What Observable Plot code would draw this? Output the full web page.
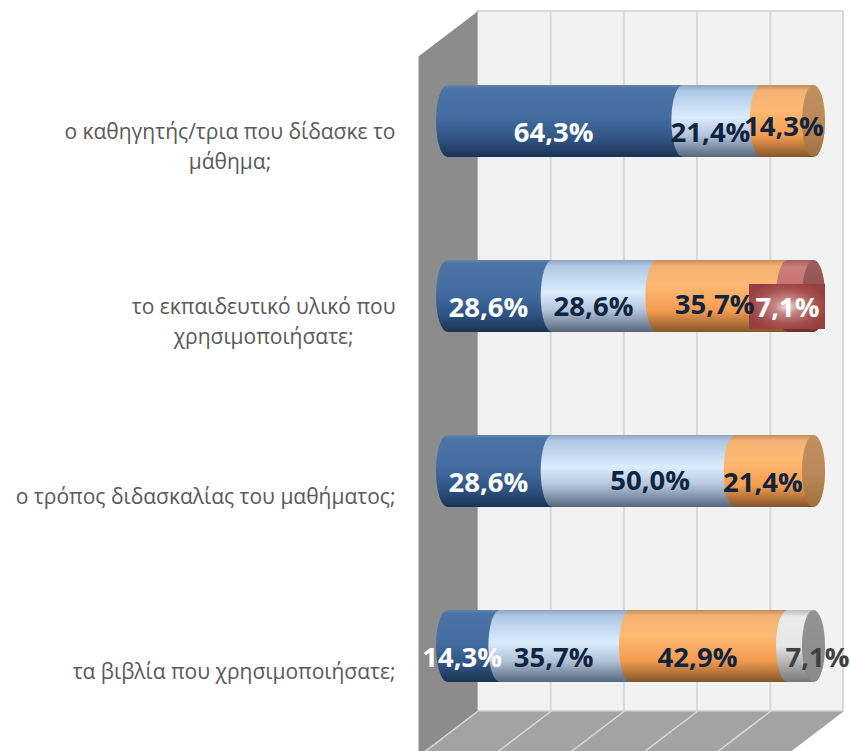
<!DOCTYPE html>
<html lang="el">
<head>
<meta charset="utf-8">
<script src="https://cdn.jsdelivr.net/npm/d3@7"></script>
<script src="https://cdn.jsdelivr.net/npm/@observablehq/plot@0.6"></script>
<style>html,body{margin:0;padding:0;background:#fff}svg{display:block}</style>
</head>
<body>
<div id="chart"></div>
<script>
const categories = [
  "ο καθηγητής/τρια που δίδασκε το\nμάθημα;",
  "το εκπαιδευτικό υλικό που\nχρησιμοποιήσατε;",
  "ο τρόπος διδασκαλίας του μαθήματος;",
  "τα βιβλία που χρησιμοποιήσατε;"
];
const seriesBlue   = [64.3, 28.6, 28.6, 14.3];
const seriesLight  = [21.4, 28.6, 50.0, 35.7];
const seriesOrange = [14.3, 35.7, 21.4, 42.9];
const seriesRed    = [0, 7.1, 0, 0];
const seriesGray   = [0, 0, 0, 7.1];
const gridTicks = [0, 20, 40, 60, 80, 100];

// manual label placement in the original, in screen pixels from the default spot
const nudgeBlue   = [[0,0],[0,0],[0,0],[0,0]];
const nudgeLight  = [[0,0],[0.5,-1],[18,-2],[0,0]];
const nudgeOrange = [[8,-6],[4,-3],[0,0],[0,0]];
const nudgeRed    = [[0,0],[-1.5,0],[0,0],[0,0]];
const nudgeGray   = [[0,0],[0,0],[0,0],[28.5,0]];

const W = 850, H = 751;
const pxX = 3.66, pxY = 175;
const x0 = 447.5, y0 = 121;
const xDomain = [-x0 / pxX, (W - x0) / pxX];
const yDomain = [-y0 / pxY, (H - y0) / pxY];
const depthX = 59 / 2 / pxX;
const depthY = 45 / pxY;
const wallTop = (11 - y0) / pxY, wallBottom = (711 - y0) / pxY;
const halfBar = 36 / pxY;
const rx = 11.5;

const series = [
  {key: "blue",   values: seriesBlue,   nudge: nudgeBlue,   text: "#ffffff"},
  {key: "light",  values: seriesLight,  nudge: nudgeLight,  text: "#0f243e"},
  {key: "orange", values: seriesOrange, nudge: nudgeOrange, text: "#0f243e"},
  {key: "red",    values: seriesRed,    nudge: nudgeRed,    text: "#ffffff"},
  {key: "gray",   values: seriesGray,   nudge: nudgeGray,   text: "#404040"}
];

const cum = categories.map(() => 0);
const segs = series.map(s => s.values.map((v, i) => {
  const start = cum[i]; cum[i] += v;
  return {i, v, start, end: start + v, mid: start + v / 2,
          lx: start + v / 2 + (-12 + s.nudge[i][0]) / pxX,
          ly: i + (11.5 + s.nudge[i][1]) / pxY,
          label: v.toFixed(1).replace(".", ",") + "%"};
}).filter(d => d.v > 0));

const ctx = document.createElement("canvas").getContext("2d");
const catFontSize = 21;
ctx.font = `${catFontSize}px 'Open Sans'`;
const labelRight = (395 - x0) / pxX;
const catRows = categories.map((c, i) => {
  const w = Math.max(...c.split("\n").map(l => ctx.measureText(l).width));
  return {c, i, x: labelRight - (w / 2) / pxX, y: i + 22.5 / pxY};
});

const side = [[-depthX, wallTop + depthY],[depthX, wallTop],[depthX, wallBottom],[-depthX, wallBottom + depthY]];
const floor = [[depthX, wallBottom],[100 + depthX, wallBottom],[100 - depthX, wallBottom + depthY],[-depthX, wallBottom + depthY]];

const marks = [
  Plot.rect([0], {x1: depthX, x2: 100 + depthX, y1: wallTop, y2: wallBottom, fill: "#f2f2f2", stroke: "#cfcfcf", strokeWidth: 1.5}),
  Plot.ruleX(gridTicks.slice(1, -1), {x: d => d + depthX, y1: wallTop, y2: wallBottom, stroke: "#d9d9d9", strokeWidth: 2}),
  Plot.line(side, {x: "0", y: "1", fill: "#8c8c8c", stroke: "none"}),
  Plot.line(floor, {x: "0", y: "1", fill: "#a3a3a3", stroke: "none"}),
  ...gridTicks.slice(0, -1).map(t => Plot.line(
    [[t + depthX, wallBottom],[t - depthX, wallBottom + depthY]],
    {x: "0", y: "1", stroke: "#d9d9d9", strokeWidth: 1.5}))
];

series.forEach((s, k) => {
  marks.push(Plot.rect(segs[k], {
    x1: "start", x2: "end",
    y1: d => d.i - halfBar, y2: d => d.i + halfBar,
    insetLeft: -rx, insetRight: -rx,
    rx: rx, ry: 36,
    fill: `url(#g-${s.key})`
  }));
});

// right-hand end cap of each cylinder, coloured after the last segment
series.forEach((s, k) => {
  const last = segs[k].filter(d => Math.abs(d.end - 100) < 0.2);
  if (last.length) marks.push(Plot.rect(last, {
    x1: () => 100, x2: () => 100,
    y1: d => d.i - halfBar, y2: d => d.i + halfBar,
    insetLeft: -rx, insetRight: -rx,
    rx: rx, ry: 36,
    fill: `url(#cap-${s.key})`
  }));
});

// red box behind the single 7,1% label
marks.push(Plot.rect(segs[3], {
  x1: "lx", x2: "lx", y1: "ly", y2: "ly",
  insetLeft: -38, insetRight: -38, insetTop: -22.5, insetBottom: -22.5,
  dy: -1, fill: "url(#box-red)"
}));

series.forEach((s, k) => {
  marks.push(Plot.text(segs[k], {
    x: "lx", y: "ly", text: "label",
    fill: s.text, fontSize: 27.5, fontWeight: 700,
    fontFamily: "'Open Sans'", textAnchor: "middle", lineAnchor: "middle"
  }));
});

marks.push(Plot.text(catRows, {
  x: "x", y: "y", text: "c", fill: "#595959",
  fontSize: catFontSize, fontFamily: "'Open Sans'",
  textAnchor: "middle", lineAnchor: "middle", lineHeight: 30.5 / catFontSize
}));

const plot = Plot.plot({
  width: W, height: H,
  marginTop: 0, marginRight: 0, marginBottom: 0, marginLeft: 0,
  x: {domain: xDomain, range: [0, W], axis: null},
  y: {domain: yDomain, range: [0, H], axis: null},
  style: {background: "transparent", overflow: "hidden"},
  marks
});

const defs = d3.select(plot).insert("defs", ":first-child");
function vGrad(id, stops) {
  const g = defs.append("linearGradient").attr("id", id)
    .attr("x1", 0).attr("y1", 0).attr("x2", 0).attr("y2", 1);
  stops.forEach(([o, c]) => g.append("stop").attr("offset", o).attr("stop-color", c));
}
vGrad("g-blue",   [[0,"#6385ab"],[0.05,"#4a74a6"],[0.45,"#436da0"],[0.75,"#2f5483"],[1,"#1b3354"]]);
vGrad("g-light",  [[0,"#8fa6c2"],[0.08,"#aec7e4"],[0.45,"#dcecff"],[0.7,"#b3c4da"],[1,"#56667c"]]);
vGrad("g-orange", [[0,"#c08c5c"],[0.08,"#f5b273"],[0.35,"#fdb974"],[0.7,"#f69d50"],[1,"#84552a"]]);
vGrad("g-red",    [[0,"#a86060"],[0.1,"#cc7d7c"],[0.5,"#c46f6e"],[1,"#6d2e2d"]]);
vGrad("g-gray",   [[0,"#bcbcbc"],[0.1,"#ececec"],[0.5,"#e6e6e6"],[1,"#787878"]]);
vGrad("cap-orange", [[0,"#c08f5e"],[0.5,"#bb8a58"],[1,"#a07040"]]);
vGrad("cap-red",    [[0,"#9a5f5f"],[0.5,"#8f5150"],[1,"#6f3b3a"]]);
vGrad("cap-gray",   [[0,"#939393"],[1,"#8a8a8a"]]);
const rg = defs.append("radialGradient").attr("id", "box-red").attr("cx", "50%").attr("cy", "50%").attr("r", "55%");
[[0,"#f3e4e4"],[0.3,"#c48585"],[0.7,"#a95252"],[1,"#993f40"]].forEach(([o,c]) =>
  rg.append("stop").attr("offset", o).attr("stop-color", c));

document.getElementById("chart").appendChild(plot);
</script>
</body>
</html>
